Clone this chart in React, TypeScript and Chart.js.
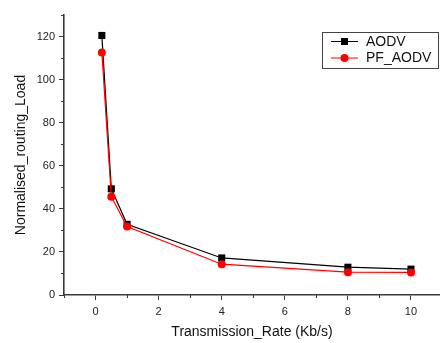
import React, { useEffect, useRef } from "react";
import { Chart, registerables } from "chart.js";

Chart.register(...registerables);

const rates = [0.2, 0.5, 1, 4, 8, 10];
const aodv = [120.5, 49.3, 32.8, 17.2, 12.9, 12.0];
const pfAodv = [112.6, 45.6, 31.8, 14.3, 10.6, 10.5];
const xMajorTicks = [0, 2, 4, 6, 8, 10];
const xMinorTicks = [-1, 1, 3, 5, 7, 9];
const yMajorTicks = [0, 20, 40, 60, 80, 100, 120];
const yMinorTicks = [10, 30, 50, 70, 90, 110, 130];
const seriesNames = ["AODV", "PF_AODV"];
const xTitle = "Transmission_Rate (Kb/s)";
const yTitle = "Normalised_routing_Load";

const FONT = '"Liberation Sans", Arial, sans-serif';
const AXIS_COLOR = "#3a3a3a";

const minorTicksPlugin = {
  id: "minorTicks",
  afterDraw(chart: any) {
    const ctx = chart.ctx;
    const xs = chart.scales.x;
    const ys = chart.scales.y;
    const area = chart.chartArea;
    ctx.save();
    ctx.strokeStyle = AXIS_COLOR;
    ctx.lineWidth = 1;
    xMinorTicks.forEach((v) => {
      const px = Math.round(xs.getPixelForValue(v)) + 0.5;
      ctx.beginPath();
      ctx.moveTo(px, area.bottom);
      ctx.lineTo(px, area.bottom + 3);
      ctx.stroke();
    });
    yMinorTicks.forEach((v) => {
      const py = Math.round(ys.getPixelForValue(v)) + 0.5;
      ctx.beginPath();
      ctx.moveTo(area.left, py);
      ctx.lineTo(area.left - 3, py);
      ctx.stroke();
    });
    ctx.restore();
  },
};

const boxLegendPlugin = {
  id: "boxLegend",
  afterDraw(chart: any) {
    const ctx = chart.ctx;
    const area = chart.chartArea;
    const left = Math.min(area.right, chart.width) - 118;
    const top = area.top + 17;
    const w = 116;
    const h = 36;
    ctx.save();
    ctx.fillStyle = "#ffffff";
    ctx.fillRect(left, top, w, h);
    ctx.strokeStyle = "#444";
    ctx.lineWidth = 1;
    ctx.strokeRect(left + 0.5, top + 0.5, w, h);
    chart.data.datasets.forEach((ds: any, i: number) => {
      const y = top + 9.5 + i * 16.5;
      const x0 = left + 9;
      const x1 = left + 36;
      ctx.strokeStyle = ds.borderColor;
      ctx.lineWidth = 1;
      ctx.beginPath();
      ctx.moveTo(x0, y);
      ctx.lineTo(x1, y);
      ctx.stroke();
      ctx.fillStyle = ds.backgroundColor;
      const cx = (x0 + x1) / 2;
      if (ds.pointStyle === "rect") {
        ctx.fillRect(cx - 3.5, y - 3.5, 7, 7);
      } else {
        ctx.beginPath();
        ctx.arc(cx, y, 4, 0, Math.PI * 2);
        ctx.fill();
      }
      ctx.fillStyle = "#111";
      ctx.font = `14px ${FONT}`;
      ctx.textBaseline = "middle";
      ctx.textAlign = "left";
      ctx.fillText(ds.label, left + 44, y + 0.5);
    });
    ctx.restore();
  },
};

export default function App() {
  const ref = useRef<HTMLCanvasElement>(null);

  useEffect(() => {
    if (!ref.current) return;
    const chart = new Chart(ref.current, {
      type: "scatter",
      data: {
        datasets: [
          {
            label: seriesNames[0],
            data: rates.map((x, i) => ({ x, y: aodv[i] })),
            showLine: true,
            borderColor: "#000000",
            backgroundColor: "#000000",
            borderWidth: 1.2,
            pointStyle: "rect",
            pointRadius: 5,
            pointBorderWidth: 0,
            order: 1,
          },
          {
            label: seriesNames[1],
            data: rates.map((x, i) => ({ x, y: pfAodv[i] })),
            showLine: true,
            borderColor: "#ff0000",
            backgroundColor: "#ff0000",
            borderWidth: 1.2,
            pointStyle: "circle",
            pointRadius: 4,
            pointBorderWidth: 0,
            order: 0,
          },
        ],
      },
      options: {
        animation: false,
        responsive: false,
        maintainAspectRatio: false,
        layout: { autoPadding: false, padding: { top: 15, right: 0, left: 0, bottom: 0 } },
        plugins: {
          legend: { display: false },
          tooltip: { enabled: false },
        },
        scales: {
          x: {
            type: "linear",
            min: -1,
            max: 10.92,
            afterBuildTicks: (scale: any) => {
              scale.ticks = xMajorTicks.map((v) => ({ value: v }));
            },
            afterFit: (scale: any) => {
              scale.height = 48;
            },
            grid: {
              display: true,
              drawOnChartArea: false,
              drawTicks: true,
              tickLength: 5,
              tickColor: AXIS_COLOR,
              tickWidth: 1,
            },
            border: { display: true, color: AXIS_COLOR, width: 1.6 },
            ticks: {
              color: "#222",
              font: { family: FONT, size: 11 },
              padding: 5,
              maxRotation: 0,
            },
            title: {
              display: true,
              text: xTitle,
              color: "#111",
              font: { family: FONT, size: 14 },
              padding: { top: 0, bottom: 2 },
            },
          },
          y: {
            type: "linear",
            min: 0,
            max: 130,
            afterBuildTicks: (scale: any) => {
              scale.ticks = yMajorTicks.map((v) => ({ value: v }));
            },
            afterFit: (scale: any) => {
              scale.width = 64;
            },
            grid: {
              display: true,
              drawOnChartArea: false,
              drawTicks: true,
              tickLength: 5,
              tickColor: AXIS_COLOR,
              tickWidth: 1,
            },
            border: { display: true, color: AXIS_COLOR, width: 1.6 },
            ticks: {
              color: "#222",
              font: { family: FONT, size: 11 },
              padding: 4,
            },
            title: {
              display: true,
              text: yTitle,
              color: "#111",
              font: { family: FONT, size: 14 },
              padding: { top: 13, bottom: 0 },
            },
          },
        },
      },
      plugins: [minorTicksPlugin, boxLegendPlugin],
    });
    return () => chart.destroy();
  }, []);

  return (
    <div style={{ position: "absolute", left: 0, top: 0, width: 440, height: 343, background: "#fff" }}>
      <canvas ref={ref} width={440} height={343} style={{ display: "block" }} />
    </div>
  );
}
